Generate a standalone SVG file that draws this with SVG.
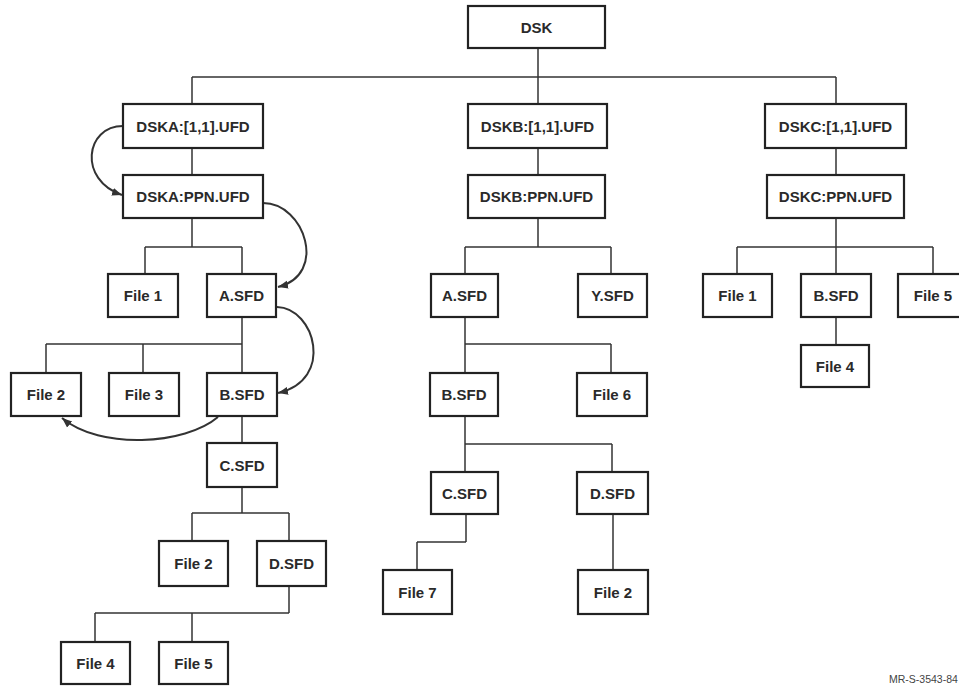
<svg xmlns="http://www.w3.org/2000/svg" width="959" height="686" viewBox="0 0 959 686">
<style>
  .box rect { fill: #fff; stroke: #222; stroke-width: 2.2; }
  .box text { font-family: "Liberation Sans", Arial, sans-serif; font-weight: bold; font-size: 15px; fill: #2a2a2a; text-anchor: middle; dominant-baseline: central; }
  .conn line, .conn polyline { stroke: #333; stroke-width: 1.5; fill: none; }
  .conn path { stroke: #333; stroke-width: 2; fill: none; marker-end: url(#arr); }
  .note { font-family: "Liberation Sans", Arial, sans-serif; font-size: 10.5px; fill: #444; }
</style>
<defs>
  <marker id="arr" markerUnits="userSpaceOnUse" markerWidth="12" markerHeight="10" refX="10" refY="5" orient="auto">
    <path d="M0,1 L10,5 L0,9 Z" fill="#333"/>
  </marker>
</defs>
<rect width="959" height="686" fill="#fff"/>
<g id="connectors" class="conn">
  <line x1="538" y1="48" x2="538" y2="77"/>
  <line x1="192" y1="77" x2="836" y2="77"/>
  <line x1="192" y1="77" x2="192" y2="104"/>
  <line x1="538" y1="77" x2="538" y2="104"/>
  <line x1="836" y1="77" x2="836" y2="104"/>
  <line x1="192" y1="148" x2="192" y2="175"/>
  <line x1="538" y1="148" x2="538" y2="175"/>
  <line x1="836" y1="148" x2="836" y2="175"/>
  <!-- left tree -->
  <line x1="192" y1="218" x2="192" y2="247"/>
  <line x1="145" y1="247" x2="242" y2="247"/>
  <line x1="145" y1="247" x2="145" y2="274"/>
  <line x1="242" y1="247" x2="242" y2="274"/>
  <line x1="242" y1="317" x2="242" y2="373"/>
  <line x1="46" y1="344" x2="242" y2="344"/>
  <line x1="46" y1="344" x2="46" y2="373"/>
  <line x1="143" y1="344" x2="143" y2="373"/>
  <line x1="242" y1="416" x2="242" y2="443"/>
  <line x1="242" y1="487" x2="242" y2="513"/>
  <line x1="192" y1="513" x2="289" y2="513"/>
  <line x1="192" y1="513" x2="192" y2="541"/>
  <line x1="289" y1="513" x2="289" y2="541"/>
  <line x1="289" y1="586" x2="289" y2="613"/>
  <line x1="95" y1="613" x2="289" y2="613"/>
  <line x1="95" y1="613" x2="95" y2="642"/>
  <line x1="192" y1="613" x2="192" y2="642"/>
  <!-- middle tree -->
  <line x1="538" y1="218" x2="538" y2="247"/>
  <line x1="465" y1="247" x2="611" y2="247"/>
  <line x1="465" y1="247" x2="465" y2="274"/>
  <line x1="611" y1="247" x2="611" y2="274"/>
  <line x1="465" y1="317" x2="465" y2="373"/>
  <line x1="465" y1="344" x2="611" y2="344"/>
  <line x1="611" y1="344" x2="611" y2="373"/>
  <line x1="465" y1="416" x2="465" y2="472"/>
  <line x1="465" y1="444" x2="612" y2="444"/>
  <line x1="612" y1="444" x2="612" y2="472"/>
  <line x1="466" y1="514" x2="466" y2="542"/>
  <line x1="417" y1="542" x2="466" y2="542"/>
  <line x1="417" y1="542" x2="417" y2="570"/>
  <line x1="613" y1="514" x2="613" y2="570"/>
  <!-- right tree -->
  <line x1="836" y1="218" x2="836" y2="247"/>
  <line x1="737" y1="247" x2="933" y2="247"/>
  <line x1="737" y1="247" x2="737" y2="274"/>
  <line x1="836" y1="247" x2="836" y2="274"/>
  <line x1="933" y1="247" x2="933" y2="274"/>
  <line x1="836" y1="317" x2="836" y2="345"/>
  <!-- curved arrows -->
  <path d="M123,126 C85,126 78,180 122,195"/>
  <path d="M263,203 C305,203 328,275 278,287"/>
  <path d="M277,307 C315,308 335,380 278,393"/>
  <path d="M218,417 C185,445 100,450 62,418"/>
</g>
<g id="n-dsk" class="box"><rect x="468" y="6" width="137" height="42"/><text x="536.5" y="27">DSK</text></g>
<g id="n-dska11" class="box"><rect x="123" y="104" width="140" height="44"/><text x="193" y="126">DSKA:[1,1].UFD</text></g>
<g id="n-dskappn" class="box"><rect x="123" y="175" width="140" height="43"/><text x="193" y="196.5">DSKA:PPN.UFD</text></g>
<g id="n-dskb11" class="box"><rect x="468" y="104" width="139" height="44"/><text x="537.5" y="126">DSKB:[1,1].UFD</text></g>
<g id="n-dskbppn" class="box"><rect x="468" y="175" width="137" height="43"/><text x="536.5" y="196.5">DSKB:PPN.UFD</text></g>
<g id="n-dskc11" class="box"><rect x="765" y="104" width="141" height="44"/><text x="835.5" y="126">DSKC:[1,1].UFD</text></g>
<g id="n-dskcppn" class="box"><rect x="767" y="175" width="137" height="43"/><text x="835.5" y="196.5">DSKC:PPN.UFD</text></g>
<g id="n-a-file1" class="box"><rect x="108" y="274" width="70" height="43"/><text x="143" y="295.5">File 1</text></g>
<g id="n-a-asfd" class="box"><rect x="207" y="274" width="69" height="43"/><text x="241.5" y="295.5">A.SFD</text></g>
<g id="n-a-file2" class="box"><rect x="11" y="373" width="70" height="43"/><text x="46" y="394.5">File 2</text></g>
<g id="n-a-file3" class="box"><rect x="109" y="373" width="70" height="43"/><text x="144" y="394.5">File 3</text></g>
<g id="n-a-bsfd" class="box"><rect x="207" y="373" width="70" height="43"/><text x="242" y="394.5">B.SFD</text></g>
<g id="n-a-csfd" class="box"><rect x="207" y="443" width="70" height="44"/><text x="242" y="465">C.SFD</text></g>
<g id="n-a-file2b" class="box"><rect x="159" y="541" width="69" height="45"/><text x="193.5" y="563.5">File 2</text></g>
<g id="n-a-dsfd" class="box"><rect x="257" y="541" width="69" height="45"/><text x="291.5" y="563.5">D.SFD</text></g>
<g id="n-a-file4" class="box"><rect x="61" y="642" width="69" height="42"/><text x="95.5" y="663">File 4</text></g>
<g id="n-a-file5" class="box"><rect x="159" y="642" width="69" height="42"/><text x="193.5" y="663">File 5</text></g>
<g id="n-b-asfd" class="box"><rect x="431" y="274" width="67" height="43"/><text x="464.5" y="295.5">A.SFD</text></g>
<g id="n-b-ysfd" class="box"><rect x="578" y="274" width="69" height="43"/><text x="612.5" y="295.5">Y.SFD</text></g>
<g id="n-b-bsfd" class="box"><rect x="430" y="373" width="68" height="43"/><text x="464" y="394.5">B.SFD</text></g>
<g id="n-b-file6" class="box"><rect x="577" y="373" width="70" height="43"/><text x="612" y="394.5">File 6</text></g>
<g id="n-b-csfd" class="box"><rect x="431" y="472" width="67" height="42"/><text x="464.5" y="493">C.SFD</text></g>
<g id="n-b-dsfd" class="box"><rect x="577" y="472" width="71" height="42"/><text x="612.5" y="493">D.SFD</text></g>
<g id="n-b-file7" class="box"><rect x="383" y="570" width="69" height="44"/><text x="417.5" y="592">File 7</text></g>
<g id="n-b-file2" class="box"><rect x="578" y="570" width="70" height="44"/><text x="613" y="592">File 2</text></g>
<g id="n-c-file1" class="box"><rect x="703" y="274" width="69" height="43"/><text x="737.5" y="295.5">File 1</text></g>
<g id="n-c-bsfd" class="box"><rect x="801" y="274" width="70" height="43"/><text x="836" y="295.5">B.SFD</text></g>
<g id="n-c-file5" class="box"><rect x="898" y="274" width="70" height="43"/><text x="933" y="295.5">File 5</text></g>
<g id="n-c-file4" class="box"><rect x="801" y="345" width="68" height="42"/><text x="835" y="366">File 4</text></g>
<text class="note" x="889" y="683">MR-S-3543-84</text>
</svg>
